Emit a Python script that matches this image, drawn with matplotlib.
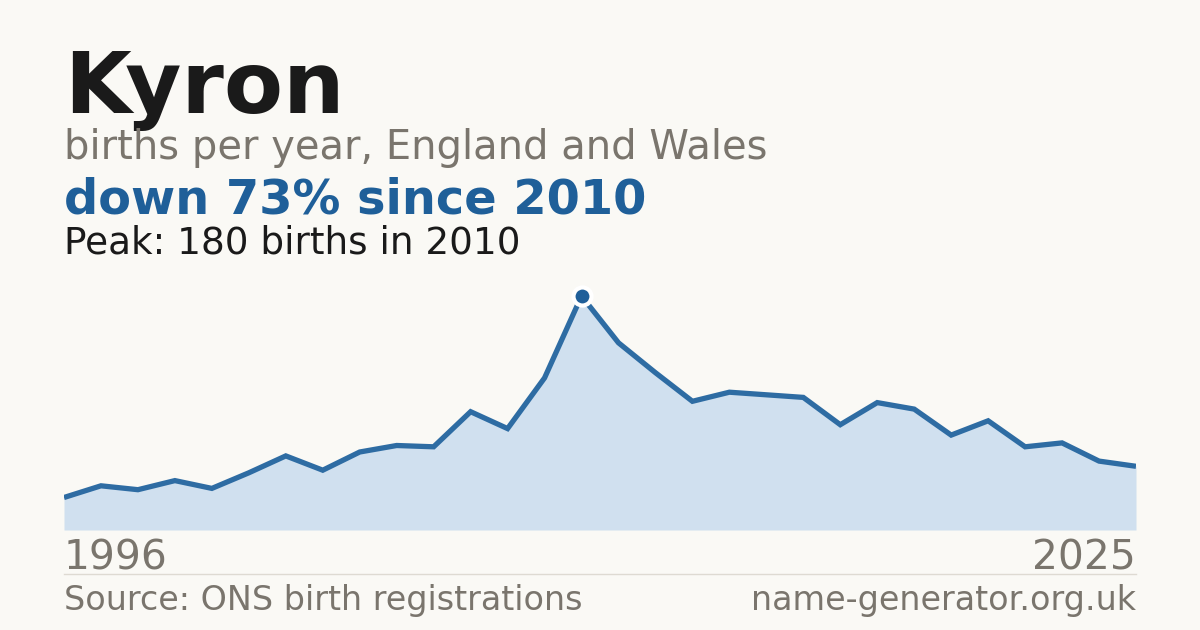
import matplotlib
matplotlib.use("Agg")
import matplotlib.pyplot as plt
from matplotlib.lines import Line2D

plt.rcParams["font.family"] = ["DejaVu Sans"]

# data
years = list(range(1996, 2026))
births = [25, 34, 31, 38, 32, 44, 57, 46, 60, 65,
          64, 91, 78, 117, 180, 144, 121, 99, 106, 104,
          102, 81, 98, 93, 73, 84, 64, 67, 53, 49]
peak_year = 2010
peak_value = 180

name = "Kyron"
subtitle = "births per year, England and Wales"
headline = "down 73% since 2010"
peak_text = "Peak: 180 births in 2010"
source = "Source: ONS birth registrations"
site = "name-generator.org.uk"

BG = "#faf9f5"
BLUE = "#1f5f99"
FILL = "#d0e0ef"
GREY = "#7a756d"
INK = "#1a1a1a"

W, H = 1200, 630
fig = plt.figure(figsize=(W / 100, H / 100), dpi=100, facecolor=BG)

def fy(py):
    return 1 - py / H

def fx(px):
    return px / W

# chart area: 1996 at x=64, 2025 at x=1136, zero at y=530
left, right, bottom, top = 64, 1136, 530, 270
ax = fig.add_axes([fx(left), fy(bottom), fx(right - left), (bottom - top) / H])
ax.set_facecolor("none")
ax.fill_between(years, births, 0, color=FILL, linewidth=0)
ax.plot(years, births, color="#2e6ca3", linewidth=3.8, solid_joinstyle="miter",
        solid_capstyle="butt")
ax.plot([peak_year], [peak_value], marker="o", markersize=13, color=BLUE,
        markeredgecolor="white", markeredgewidth=3, clip_on=False)
ax.set_xlim(years[0], years[-1])
ax.set_ylim(0, (bottom - top) / 1.3)
ax.axis("off")

# separator line above footer
fig.add_artist(Line2D([fx(64), fx(1136)], [fy(574), fy(574)], color="#dedad2",
                      linewidth=1, transform=fig.transFigure))

fig.text(fx(64), fy(113), name, fontsize=62, fontweight="bold", color=INK,
         va="baseline", ha="left")
fig.text(fx(64), fy(159), subtitle, fontsize=28.8, color=GREY,
         va="baseline", ha="left")
fig.text(fx(64), fy(214), headline, fontsize=34.5, fontweight="bold", color=BLUE,
         va="baseline", ha="left")
fig.text(fx(64), fy(254), peak_text, fontsize=26.9, color=INK,
         va="baseline", ha="left")

fig.text(fx(64), fy(570), str(years[0]), fontsize=29.3, color=GREY,
         va="baseline", ha="left")
fig.text(fx(1136), fy(570), str(years[-1]), fontsize=29.3, color=GREY,
         va="baseline", ha="right")
fig.text(fx(64), fy(610), source, fontsize=24, color=GREY,
         va="baseline", ha="left")
fig.text(fx(1136), fy(610), site, fontsize=24, color=GREY,
         va="baseline", ha="right")

fig.savefig("out.png", dpi=100, facecolor=BG)
